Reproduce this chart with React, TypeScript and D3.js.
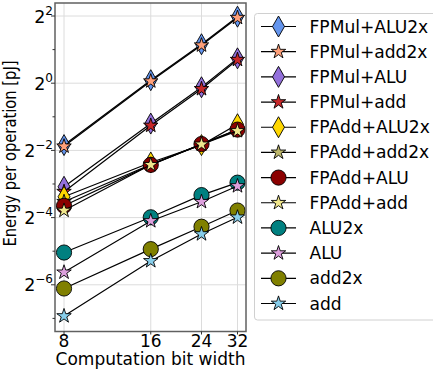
import { useRef, useEffect } from "react";
import * as d3 from "d3";

const bitWidths = [8, 16, 24, 32];

const seriesNames = [
  "FPMul+ALU2x",
  "FPMul+add2x",
  "FPMul+ALU",
  "FPMul+add",
  "FPAdd+ALU2x",
  "FPAdd+add2x",
  "FPAdd+ALU",
  "FPAdd+add",
  "ALU2x",
  "ALU",
  "add2x",
  "add",
];

// energy per op in pJ, one row per series (same order as seriesNames)
const fpMulAlu2x = [0.279, 1.064, 2.234, 3.945];
const fpMulAdd2x = [0.272, 1.042, 2.189, 3.864];
const fpMulAlu = [0.118, 0.435, 0.92, 1.67];
const fpMulAdd = [0.1066, 0.4175, 0.889, 1.6245];
const fpAddAlu2x = [0.096, 0.1948, 0.279, 0.429];
const fpAddAdd2x = [0.0866, 0.1869, 0.2832, 0.384];
const fpAddAlu = [0.0797, 0.1856, 0.2852, 0.384];
const fpAddAdd = [0.0723, 0.1856, 0.2832, 0.3737];
const alu2x = [0.0304, 0.0629, 0.0994, 0.1285];
const alu = [0.0202, 0.0583, 0.0866, 0.1199];
const add2x = [0.01448, 0.0326, 0.0518, 0.0723];
const add = [0.0082, 0.02557, 0.0445, 0.0629];

const seriesValues = [
  fpMulAlu2x, fpMulAdd2x, fpMulAlu, fpMulAdd,
  fpAddAlu2x, fpAddAdd2x, fpAddAlu, fpAddAdd,
  alu2x, alu, add2x, add,
];

const markers = ["diamond", "star", "diamond", "star", "diamond", "star", "circle", "star", "circle", "star", "circle", "star"];
const colors = [
  "#6495ed", "#ffa07a", "#9370db", "#c8282a",
  "#ffd700", "#bdb76b", "#8b0000", "#f0e68c",
  "#008080", "#dda0dd", "#808000", "#87ceeb",
];

const yTickExps = [2, 0, -2, -4, -6];
const yMinorExps = [1, -1, -3, -5, -7];

const width = 433;
const height = 371;
const plot = { left: 55, right: 246, top: 3, bottom: 331.5 };
const font = "DejaVu Sans, sans-serif";

function markerPath(kind: string): string {
  if (kind === "diamond") {
    return "M0,-10.5L6,0L0,10.5L-6,0Z";
  }
  if (kind === "star") {
    const R = 7.6;
    const r = R * 0.381966;
    const pts: string[] = [];
    for (let i = 0; i < 10; i++) {
      const a = (Math.PI / 5) * i - Math.PI / 2;
      const rad = i % 2 === 0 ? R : r;
      pts.push(`${(rad * Math.cos(a)).toFixed(2)},${(rad * Math.sin(a)).toFixed(2)}`);
    }
    return "M" + pts.join("L") + "Z";
  }
  return d3.symbol(d3.symbolCircle, Math.PI * 7.6 * 7.6)() as string;
}

const EnergyChart = () => {
  const svgRef = useRef<SVGSVGElement>(null);

  useEffect(() => {
    const svg = d3.select(svgRef.current).attr("width", width).attr("height", height);
    svg.selectAll("*").remove();

    const x = d3
      .scaleLog()
      .base(2)
      .domain([Math.pow(2, 2.896), Math.pow(2, 5.098)])
      .range([plot.left, plot.right]);

    const y = d3
      .scaleLog()
      .base(2)
      .domain([Math.pow(2, -7.39), Math.pow(2, 2.387)])
      .range([plot.bottom, plot.top]);

    // grid
    const grid = svg.append("g");
    grid
      .selectAll("line.vx")
      .data(bitWidths)
      .enter()
      .append("line")
      .attr("x1", (d) => x(d))
      .attr("x2", (d) => x(d))
      .attr("y1", plot.top)
      .attr("y2", plot.bottom)
      .attr("stroke", "#dcdcdc")
      .attr("stroke-width", 1);
    grid
      .selectAll("line.hy")
      .data(yTickExps)
      .enter()
      .append("line")
      .attr("x1", plot.left)
      .attr("x2", plot.right)
      .attr("y1", (d) => y(Math.pow(2, d)))
      .attr("y2", (d) => y(Math.pow(2, d)))
      .attr("stroke", "#dcdcdc")
      .attr("stroke-width", 1);

    // series lines + markers
    const line = d3
      .line<number>()
      .x((_, i) => x(bitWidths[i]))
      .y((d) => y(d));

    seriesValues.forEach((vals, si) => {
      const g = svg.append("g");
      g.append("path")
        .attr("d", line(vals))
        .attr("fill", "none")
        .attr("stroke", "#000")
        .attr("stroke-width", 1.2);
      g.selectAll("path.m")
        .data(vals)
        .enter()
        .append("path")
        .attr("d", markerPath(markers[si]))
        .attr("transform", (d, i) => `translate(${x(bitWidths[i])},${y(d)})`)
        .attr("fill", colors[si])
        .attr("stroke", "#000")
        .attr("stroke-width", 0.9);
    });

    // frame
    svg
      .append("rect")
      .attr("x", plot.left)
      .attr("y", plot.top)
      .attr("width", plot.right - plot.left)
      .attr("height", plot.bottom - plot.top)
      .attr("fill", "none")
      .attr("stroke", "#606060")
      .attr("stroke-width", 1.5);

    // y ticks
    const yAxis = svg.append("g");
    yAxis
      .selectAll("line.major")
      .data(yTickExps)
      .enter()
      .append("line")
      .attr("x1", plot.left - 4)
      .attr("x2", plot.left)
      .attr("y1", (d) => y(Math.pow(2, d)))
      .attr("y2", (d) => y(Math.pow(2, d)))
      .attr("stroke", "#333");
    yAxis
      .selectAll("line.minor")
      .data(yMinorExps)
      .enter()
      .append("line")
      .attr("x1", plot.left - 2.5)
      .attr("x2", plot.left)
      .attr("y1", (d) => y(Math.pow(2, d)))
      .attr("y2", (d) => y(Math.pow(2, d)))
      .attr("stroke", "#333");
    const yLabels = yAxis
      .selectAll("text")
      .data(yTickExps)
      .enter()
      .append("text")
      .attr("x", plot.left - 2)
      .attr("y", (d) => y(Math.pow(2, d)) + 6.5)
      .attr("text-anchor", "end")
      .attr("font-family", font)
      .attr("font-size", 17.5)
      .attr("fill", "#000");
    yLabels.append("tspan").text("2");
    yLabels
      .append("tspan")
      .attr("dy", -8)
      .attr("font-size", 12)
      .text((d) => (d < 0 ? "\u2212" + Math.abs(d) : String(d)));

    // x ticks
    const xAxis = svg.append("g");
    xAxis
      .selectAll("line")
      .data(bitWidths)
      .enter()
      .append("line")
      .attr("x1", (d) => x(d))
      .attr("x2", (d) => x(d))
      .attr("y1", plot.bottom)
      .attr("y2", plot.bottom + 3)
      .attr("stroke", "#333");
    xAxis
      .selectAll("text")
      .data(bitWidths)
      .enter()
      .append("text")
      .attr("x", (d) => x(d))
      .attr("y", plot.bottom + 15)
      .attr("text-anchor", "middle")
      .attr("font-family", font)
      .attr("font-size", 17)
      .text((d) => String(d));

    svg
      .append("text")
      .attr("x", (plot.left + plot.right) / 2)
      .attr("y", 365)
      .attr("text-anchor", "middle")
      .attr("font-family", font)
      .attr("font-size", 17)
      .text("Computation bit width");

    svg
      .append("text")
      .attr("transform", `translate(16,153.5) scale(1,0.82) rotate(-90)`)
      .attr("text-anchor", "middle")
      .attr("font-family", font)
      .attr("font-size", 18)
      .text("Energy per operation [pJ]");

    // legend
    const legend = svg.append("g");
    legend
      .append("rect")
      .attr("x", 254.5)
      .attr("y", 13.5)
      .attr("width", 200)
      .attr("height", 306.5)
      .attr("rx", 3)
      .attr("fill", "#fff")
      .attr("fill-opacity", 0.8)
      .attr("stroke", "#d0d0d0");
    const rowY = d3.scaleLinear().domain([0, seriesNames.length - 1]).range([26.5, 303.5]);
    const rows = legend
      .selectAll("g.row")
      .data(seriesNames)
      .enter()
      .append("g")
      .attr("transform", (_, i) => `translate(0,${rowY(i)})`);
    rows
      .append("line")
      .attr("x1", 261)
      .attr("x2", 296)
      .attr("stroke", "#000")
      .attr("stroke-width", 1.2);
    rows
      .append("path")
      .attr("d", (_, i) => markerPath(markers[i]))
      .attr("transform", "translate(278.5,0)")
      .attr("fill", (_, i) => colors[i])
      .attr("stroke", "#000")
      .attr("stroke-width", 0.9);
    rows
      .append("text")
      .attr("x", 309.5)
      .attr("y", 6)
      .attr("font-family", font)
      .attr("font-size", 17.1)
      .text((d) => d);
  }, []);

  return (
    <div>
      <svg ref={svgRef} style={{ position: "absolute", left: 0, top: 0 }}></svg>
    </div>
  );
};

export default function App() {
  return <EnergyChart />;
}
